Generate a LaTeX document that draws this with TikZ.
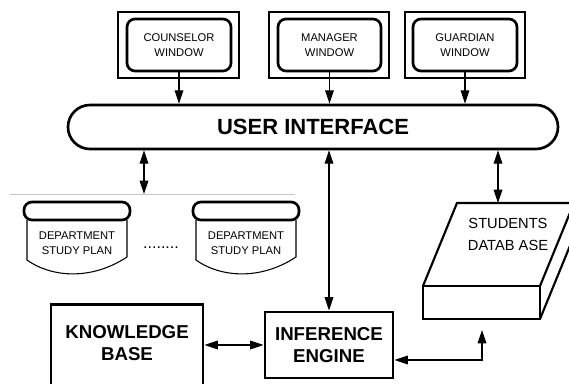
\documentclass[tikz,border=0pt]{standalone}
\usepackage{fontspec}
\setmainfont{Liberation Sans}
\usetikzlibrary{arrows.meta,shapes.misc}
\tikzset{
  outerwin/.style={draw, line width=2pt, minimum height=49.5pt, inner sep=0pt},
  innerwin/.style={draw, line width=2pt, rounded corners=6pt, minimum height=39pt, inner sep=0pt,
    font=\fontsize{8.4}{11}\selectfont, align=center},
  smalltext/.style={font=\fontsize{8.4}{11}\selectfont, align=center},
  bigtext/.style={font=\bfseries\fontsize{14}{17}\selectfont, align=center},
  heavybox/.style={draw, line width=2.2pt, inner sep=0pt},
  arr/.style={line width=0.8pt, -{Triangle[length=10pt,width=6.5pt]}},
  dbl/.style={line width=0.8pt, {Triangle[length=10pt,width=6.5pt]}-{Triangle[length=10pt,width=6.5pt]}},
  studyplan/.pic={
    \draw[line width=0.8pt] (3,18) -- (3,58) .. controls (25,74) and (65,80) .. (103,55) -- (103,18);
    \draw[line width=2pt, rounded corners=6pt, fill=white] (0,0) rectangle (106,18);
  }
}
\begin{document}
\begin{tikzpicture}[x=0.75pt,y=-0.75pt]
\useasboundingbox (0,0) rectangle (569,384);

% windows
\node[outerwin, minimum width=90.75pt] (cwo) at (178.5,45) {};
\node[innerwin, minimum width=78pt] (cw) at (179,45) {COUNSELOR\\WINDOW};
\node[outerwin, minimum width=90pt] (mwo) at (329,45) {};
\node[innerwin, minimum width=77.25pt] (mw) at (329.5,45) {MANAGER\\WINDOW};
\node[outerwin, minimum width=90pt] (gwo) at (465,45) {};
\node[innerwin, minimum width=78pt] (gw) at (465,45) {GUARDIAN\\WINDOW};

% user interface
\node[draw, line width=2pt, rounded rectangle, minimum width=367.5pt, minimum height=33pt, inner sep=0pt,
  font=\bfseries\fontsize{16.5}{20}\selectfont] (ui) at (313,127) {USER INTERFACE};

% grey line
\coordinate (grey) at (144,194);
\draw[gray!45, line width=0.6pt] (10,194) -- (295,194);

% study plans
\pic at (24,202) {studyplan};
\pic at (193,202) {studyplan};
\node[smalltext] (sp1) at (77,243) {DEPARTMENT\\STUDY PLAN};
\node[smalltext] (sp2) at (246,243) {DEPARTMENT\\STUDY PLAN};
\node[font=\fontsize{12}{12}\selectfont, inner sep=0pt] (dots) at (161,248) {........};

% knowledge base
\node[heavybox, minimum width=114pt, minimum height=66pt, anchor=north] (kb) at (127,303) {};
\node[bigtext] (kbt) at (127,343) {KNOWLEDGE\\BASE};

% inference engine
\node[heavybox, minimum width=96pt, minimum height=49.5pt, bigtext, font=\bfseries\fontsize{14}{16}\selectfont] (ie) at (329,345) {INFERENCE\\ENGINE};

% students database
\draw[line width=1.6pt, line join=miter] (423,286) rectangle (540,319);
\draw[line width=1.6pt, line join=miter] (423,286) -- (457,203) -- (574,203) -- (540,286);
\draw[line width=1.6pt, line join=miter] (574,203) -- (574,236) -- (540,319);
\node[font=\fontsize{11}{16.5}\selectfont, align=center] (db) at (508,234) {STUDENTS\\DATAB ASE};
\coordinate (dbtop) at (498,203);
\coordinate (dbbot) at (482,330);
\coordinate (iein) at ([yshift=-11.25pt]ie.east);

% connectors
\draw[arr] (cw.south) -- (cw.south |- ui.north);
\draw[arr] (mw.south) -- (mw.south |- ui.north);
\draw[arr] (gw.south) -- (gw.south |- ui.north);
\draw[dbl] (ui.south -| grey) -- (grey);
\draw[dbl] (ie.north) -- (ie.north |- ui.south);
\draw[dbl] (ui.south -| dbtop) -- (dbtop);
\draw[dbl] (ie.west) -- (ie.west -| kb.east);
\draw[dbl] (iein) -| (dbbot);
\end{tikzpicture}
\end{document}
